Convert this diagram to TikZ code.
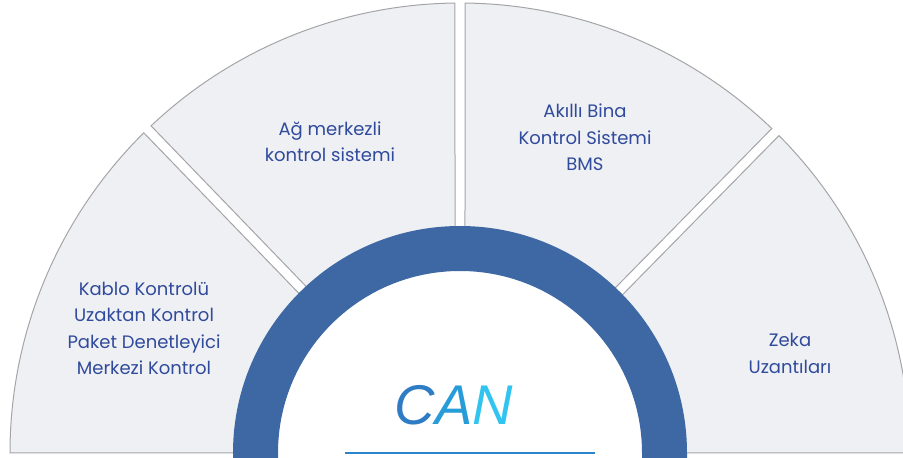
\documentclass[tikz,border=0pt]{standalone}
\usepackage{fontspec}
\setmainfont{Poppins}
\newfontfamily\canfont{Liberation Sans}
\usetikzlibrary{calc}
\definecolor{panelfill}{RGB}{239,240,243}
\definecolor{paneledge}{RGB}{165,165,168}
\definecolor{ringblue}{RGB}{61,104,163}
\definecolor{txtblue}{RGB}{48,74,156}
\definecolor{canA}{RGB}{46,124,196}
\definecolor{canB}{RGB}{40,156,216}
\definecolor{canC}{RGB}{50,196,240}
\definecolor{canline}{RGB}{42,133,204}
\tikzset{
  panel/.style={fill=panelfill, draw=paneledge, line width=1pt, line join=miter},
  ringstyle/.style={fill=ringblue},
  label/.style={text=txtblue, align=center, font=\fontsize{18}{26.5}\selectfont},
  canstyle/.style={font=\canfont\itshape\fontsize{56}{60}\selectfont, inner sep=0pt},
  baseline/.style={draw=canline, line width=2.4pt}
}
\begin{document}
\begin{tikzpicture}[x=1pt,y=1pt]
\useasboundingbox (0,0) rectangle (903,458);
\clip (0,0) rectangle (903,458);
\coordinate (O) at (460,5);
% panels
\draw[panel] ($(O)+(180:450)$) arc[start angle=180, end angle=134.64, radius=450]
  -- ($(O)+(135.43:200)$) arc[start angle=135.43, end angle=180, radius=200] -- cycle;
\draw[panel] ($(O)+(133.36:450)$) arc[start angle=133.36, end angle=90.64, radius=450]
  -- ($(O)+(91.43:200)$) arc[start angle=91.43, end angle=132.57, radius=200] -- cycle;
\draw[panel] ($(O)+(89.36:450)$) arc[start angle=89.36, end angle=46.14, radius=450]
  -- ($(O)+(46.93:200)$) arc[start angle=46.93, end angle=88.57, radius=200] -- cycle;
\draw[panel] ($(O)+(44.86:450)$) arc[start angle=44.86, end angle=0, radius=450]
  -- ($(O)+(0:200)$) arc[start angle=0, end angle=44.07, radius=200] -- cycle;
% ring
\fill[ringstyle] ($(O)+(0:227)$) arc[start angle=0, end angle=180, radius=227]
  -- ++(0,-6) -- ++(45,0) -- ++(0,6)
  arc[start angle=180, end angle=0, radius=182] -- ++(0,-6) -- ++(45,0) -- cycle;
% labels
\node[label] (kablo) at (144,129.5) {Kablo Kontrolü\\Uzaktan Kontrol\\Paket Denetleyici\\Merkezi Kontrol};
\node[label] (ag) at (330,316.5) {Ağ merkezli\\kontrol sistemi};
\node[label] (akilli) at (585,320.5) {Akıllı Bina\\Kontrol Sistemi\\BMS};
\node[label] (zeka) at (790,104.5) {Zeka\\Uzantıları};
% CAN
\node[canstyle, anchor=base] (can) at (454,33) {\textcolor{canA}{C}\textcolor{canB}{A}\textcolor{canC}{N}};
\coordinate (lineL) at (345,5);
\coordinate (lineR) at (595,5);
\draw[baseline] (lineL) -- (lineR);
\end{tikzpicture}
\end{document}
